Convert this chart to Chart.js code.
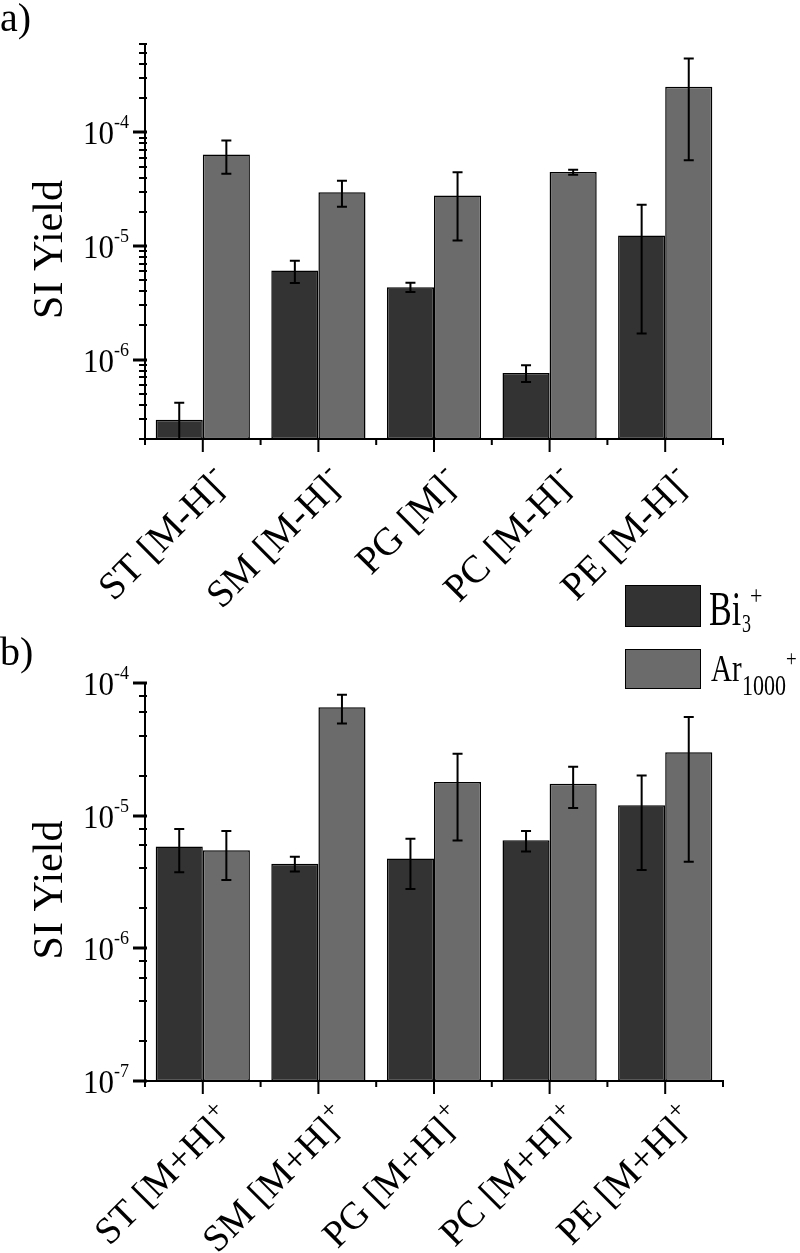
<!DOCTYPE html>
<html><head><meta charset="utf-8">
<script src="https://cdn.jsdelivr.net/npm/chart.js@4.4.1/dist/chart.umd.min.js"></script>
<style>
html,body{margin:0;padding:0;background:#fff;}
#wrap{position:relative;width:800px;height:1253px;overflow:hidden;font-family:"Liberation Serif","Times New Roman",serif;color:#000;}
canvas{position:absolute;left:0;}
#c1{top:0;}
#c2{top:640px;}
.t{position:absolute;line-height:1;white-space:nowrap;transform-origin:0 80%;}
.box{position:absolute;box-sizing:border-box;border:1.5px solid #000;}
</style></head>
<body><div id="wrap">
<canvas id="c1" width="800" height="640"></canvas>
<canvas id="c2" width="800" height="613"></canvas>
<div class="t" style="left:0px;top:-2px;font-size:40px;">a)</div>
<div class="t" style="left:0px;top:632px;font-size:40px;">b)</div>
<div class="box" style="left:625px;top:585px;width:76px;height:42px;background:#333333;"></div>
<div class="box" style="left:625px;top:649px;width:76px;height:40px;background:#6b6b6b;"></div>
<div class="t" id="lg1" style="left:709px;top:597px;font-size:34px;transform:scaleY(1.42);">Bi</div>
<div class="t" style="left:742px;top:617px;font-size:18px;transform:scaleY(1.35);">3</div>
<div class="t" style="left:750px;top:587px;font-size:22px;transform:scaleY(1.2);">+</div>
<div class="t" id="lg2" style="left:711px;top:657px;font-size:29px;transform:scaleY(1.33);">Ar</div>
<div class="t" style="left:742px;top:677px;font-size:22px;transform:scaleY(1.3);">1000</div>
<div class="t" style="left:786px;top:650px;font-size:19px;transform:scaleY(1.2);">+</div>
</div>
<script>
// ---------- data ----------
const categoriesTop = ['ST [M-H]-', 'SM [M-H]-', 'PG [M]-', 'PC [M-H]-', 'PE [M-H]-'];
const categoriesBottom = ['ST [M+H]+', 'SM [M+H]+', 'PG [M+H]+', 'PC [M+H]+', 'PE [M+H]+'];
const seriesNames = ['Bi3+', 'Ar1000+'];

const biTop      = [2.96e-7, 6.08e-6, 4.34e-6, 7.64e-7, 1.24e-5];
const biTopErr   = [1.22e-7, 1.35e-6, 0.40e-6, 1.30e-7, 1.07e-5];
const arTop      = [6.40e-5, 2.98e-5, 2.79e-5, 4.47e-5, 2.52e-4];
const arTopErr   = [2.08e-5, 7.7e-6, 1.67e-5, 2.3e-6, 1.95e-4];

const biBottom    = [5.85e-6, 4.35e-6, 4.75e-6, 6.52e-6, 1.20e-5];
const biBottomErr = [2.1e-6, 0.55e-6, 1.95e-6, 1.15e-6, 8.1e-6];
const arBottom    = [5.48e-6, 6.56e-5, 1.79e-5, 1.74e-5, 3.00e-5];
const arBottomErr = [2.2e-6, 1.6e-5, 1.14e-5, 6.0e-6, 2.55e-5];

const yMajorTop = [1e-6, 1e-5, 1e-4];
const yExpTop = ['-6', '-5', '-4'];
const yMinorMultTop = [2, 3, 4, 5, 6, 7, 8, 9];
const yMajorBottom = [1e-7, 1e-6, 1e-5, 1e-4];
const yExpBottom = ['-7', '-6', '-5', '-4'];
const yMinorMultBottom = [2, 4, 6, 8];

const FONT = '"Liberation Serif","Times New Roman",serif';
const colBi = '#333333', colAr = '#6b6b6b';

function stretchText(ctx, s, x, y, size, sy, align) {
  ctx.save();
  ctx.font = size + 'px ' + FONT;
  ctx.textAlign = align || 'left';
  ctx.textBaseline = 'alphabetic';
  ctx.translate(x, y);
  ctx.scale(1, sy);
  ctx.fillText(s, 0, 0);
  ctx.restore();
}

const decoPlugin = {
  id: 'deco',
  afterDatasetsDraw(chart) {
    const ctx = chart.ctx, ys = chart.scales.y, a = chart.chartArea;
    ctx.save();
    ctx.beginPath();
    ctx.rect(a.left, a.top - 2, a.right - a.left, a.bottom - a.top + 2);
    ctx.clip();
    ctx.strokeStyle = '#000';
    ctx.lineWidth = 2;
    chart.data.datasets.forEach((ds, di) => {
      const meta = chart.getDatasetMeta(di);
      meta.data.forEach((el, j) => {
        const v = ds.data[j], e = ds.err[j];
        const hi = v + e, lo = Math.max(v - e, ys.min * 0.3);
        const yH = ys.getPixelForValue(hi), yL = ys.getPixelForValue(lo);
        const x = el.x, cw = 5;
        ctx.beginPath();
        ctx.moveTo(x, yH); ctx.lineTo(x, yL);
        ctx.moveTo(x - cw, yH); ctx.lineTo(x + cw, yH);
        if (v - e > ys.min) { ctx.moveTo(x - cw, yL); ctx.lineTo(x + cw, yL); }
        ctx.stroke();
      });
    });
    ctx.restore();
  },
  afterDraw(chart) {
    const ctx = chart.ctx, ys = chart.scales.y, xs = chart.scales.x, a = chart.chartArea;
    const o = chart.options.plugins.deco;
    ctx.save();
    ctx.strokeStyle = '#000';
    ctx.fillStyle = '#000';
    // axis lines
    ctx.lineWidth = 2;
    ctx.beginPath();
    ctx.moveTo(a.left, a.top); ctx.lineTo(a.left, a.bottom + 1);
    ctx.moveTo(a.left - 1, a.bottom); ctx.lineTo(a.right + 1, a.bottom);
    ctx.stroke();
    // y minor ticks
    ctx.lineWidth = 2;
    const e0 = Math.floor(Math.log10(ys.min)), e1 = Math.ceil(Math.log10(ys.max));
    ctx.beginPath();
    for (let e = e0; e <= e1; e++) {
      o.minor.forEach(m => {
        const v = m * Math.pow(10, e);
        if (v >= ys.min * 0.999 && v <= ys.max * 1.001) {
          const y = Math.round(ys.getPixelForValue(v));
          ctx.moveTo(a.left - 6, y); ctx.lineTo(a.left + 2, y);
        }
      });
    }
    ctx.stroke();
    // y major ticks + labels
    ctx.lineWidth = 3;
    o.major.forEach((v, i) => {
      const y = Math.round(ys.getPixelForValue(v));
      ctx.beginPath();
      ctx.moveTo(a.left - 12, y); ctx.lineTo(a.left + 2, y);
      ctx.stroke();
      ctx.font = '18px ' + FONT;
      const sw = ctx.measureText(o.exps[i]).width;
      const supRight = a.left - 16;
      stretchText(ctx, o.exps[i], supRight, y - 4, 18, 1.0, 'right');
      stretchText(ctx, '10', supRight - sw, y + 12, 31, 1.12, 'right');
    });
    // x ticks
    ctx.lineWidth = 2;
    const n = chart.data.labels.length;
    ctx.beginPath();
    for (let j = 0; j < n; j++) {
      const cx = xs.getPixelForValue(j);
      ctx.moveTo(cx, a.bottom); ctx.lineTo(cx, a.bottom + 13);
    }
    for (let j = 0; j <= n; j++) {
      let bx;
      if (j === 0) bx = a.left; else if (j === n) bx = a.right;
      else bx = (xs.getPixelForValue(j - 1) + xs.getPixelForValue(j)) / 2;
      ctx.moveTo(bx, a.bottom); ctx.lineTo(bx, a.bottom + 6);
    }
    ctx.stroke();
    // x labels (rotated, last char superscript)
    chart.data.labels.forEach((lab, j) => {
      const cx = xs.getPixelForValue(j);
      const main = lab.slice(0, -1), sup = lab.slice(-1);
      ctx.save();
      ctx.translate(cx + o.lx, a.bottom + o.ly);
      ctx.rotate(-o.angle * Math.PI / 180);
      ctx.font = o.xsize + 'px ' + FONT;
      ctx.textAlign = 'right';
      ctx.textBaseline = 'alphabetic';
      ctx.fillText(main, 0, 0);
      ctx.font = o.supsize + 'px ' + FONT;
      ctx.textAlign = 'left';
      ctx.fillText(sup, o.supAlong, -o.supRaise);
      ctx.restore();
    });
    // y title
    ctx.save();
    ctx.translate(62, (a.top + a.bottom) / 2 + 8);
    ctx.rotate(-Math.PI / 2);
    ctx.font = '42px ' + FONT;
    ctx.textAlign = 'center';
    ctx.textBaseline = 'alphabetic';
    ctx.fillText('SI Yield', 0, 0);
    ctx.restore();
    ctx.restore();
  }
};

function makeChart(id, H, area, cats, bi, biErr, ar, arErr, yMin, yMax, major, exps, minor, lab) {
  return new Chart(document.getElementById(id), {
    type: 'bar',
    data: {
      labels: cats,
      datasets: [
        { label: seriesNames[0], data: bi, err: biErr, backgroundColor: colBi, borderColor: '#000', borderWidth: 1.5,
          borderSkipped: false, categoryPercentage: 0.815, barPercentage: 1.0 },
        { label: seriesNames[1], data: ar, err: arErr, backgroundColor: colAr, borderColor: '#000', borderWidth: 1.5,
          borderSkipped: false, categoryPercentage: 0.815, barPercentage: 1.0 }
      ]
    },
    options: {
      responsive: false, animation: false, devicePixelRatio: 1,
      layout: { padding: { left: area.left, top: area.top, right: 800 - area.right, bottom: H - area.bottom } },
      plugins: {
        legend: { display: false }, tooltip: { enabled: false }, title: { display: false },
        deco: Object.assign({ major: major, exps: exps, minor: minor }, lab)
      },
      scales: {
        x: { type: 'category', offset: true, grid: { display: false, drawTicks: false },
             ticks: { display: false }, border: { display: false } },
        y: { type: 'logarithmic', min: yMin, max: yMax, grid: { display: false, drawTicks: false },
             ticks: { display: false }, border: { display: false } }
      }
    },
    plugins: [decoPlugin]
  });
}

const labTop = { lx: 22, ly: 52, angle: 45, xsize: 39, supsize: 26, supRaise: 17, supAlong: 1 };
const labBot = { lx: 21, ly: 51, angle: 45, xsize: 38, supsize: 26, supRaise: 15, supAlong: 1 };

makeChart('c1', 640, { left: 145, right: 723, top: 44, bottom: 439 },
  categoriesTop, biTop, biTopErr, arTop, arTopErr, 2e-7, 6e-4, yMajorTop, yExpTop, yMinorMultTop, labTop);
makeChart('c2', 613, { left: 145, right: 723, top: 43, bottom: 441 },
  categoriesBottom, biBottom, biBottomErr, arBottom, arBottomErr, 1e-7, 1e-4, yMajorBottom, yExpBottom, yMinorMultBottom, labBot);
</script>
</body></html>
